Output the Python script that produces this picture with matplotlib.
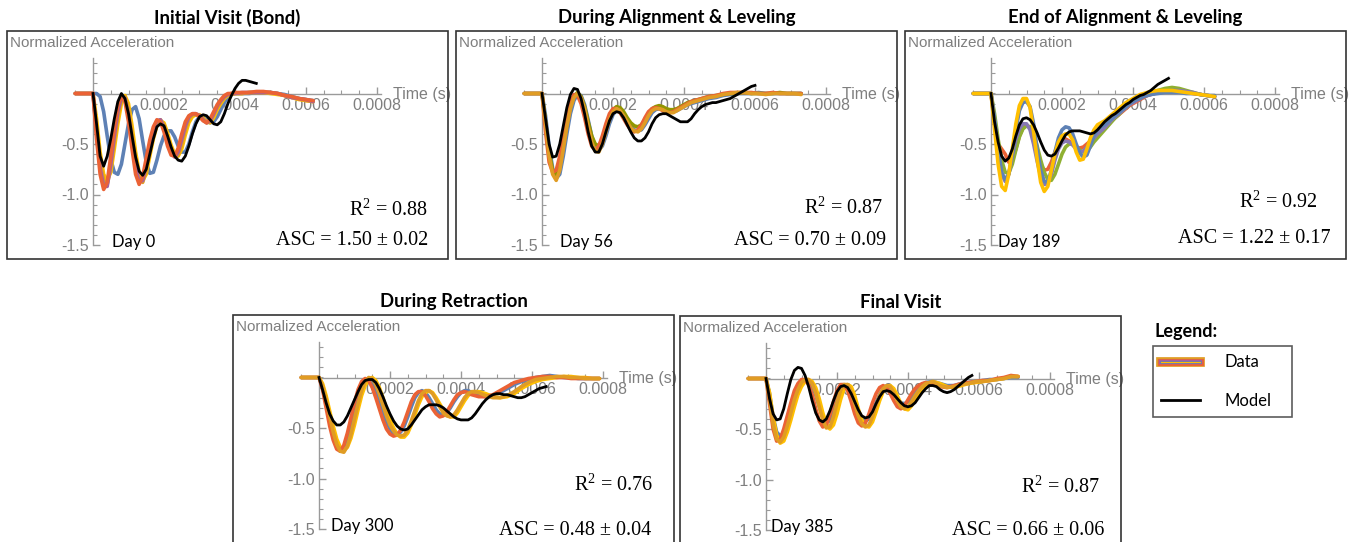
import numpy as np
import matplotlib
matplotlib.use("Agg")
import matplotlib.pyplot as plt
from matplotlib.lines import Line2D
from matplotlib.patches import Rectangle
from matplotlib.legend_handler import HandlerTuple

plt.rcParams['axes.unicode_minus'] = False
plt.rcParams['mathtext.fontset'] = 'custom'
plt.rcParams['mathtext.rm'] = 'Liberation Serif'
plt.rcParams['mathtext.it'] = 'Liberation Serif:italic'

W, H = 1349, 542

BLUE = '#5E81B5'
ORANGE = '#E09C24'
GREEN = '#8FB032'
RED = '#EB6235'
PURPLE = '#8778B3'
YELLOW = '#FFBF00'
PINK = '#A5609D'
OLIVE = '#929600'

# ---- time grids (microseconds) ----
t1 = [-50] + list(range(0, 410, 10)) + list(range(420, 640, 20))
t2 = [-50] + list(range(0, 460, 10)) + list(range(470, 750, 20))
t3 = [-50] + list(range(0, 460, 10)) + list(range(470, 650, 20))
t4 = [-50] + list(range(0, 460, 10)) + list(range(470, 810, 20))
t5 = [-50] + list(range(0, 460, 10)) + list(range(470, 730, 20))
tm1 = list(range(0, 470, 10))
tm2 = list(range(0, 610, 10))
tm3 = list(range(0, 510, 10))
tm4 = list(range(0, 650, 10))
tm5 = list(range(0, 590, 10))

# ---- Day 0 ----
p1_orange = [0, 0, -0.35, -0.68, -0.86, -0.90, -0.74, -0.47, -0.22, -0.06, -0.03,
             -0.16, -0.40, -0.66, -0.84, -0.88, -0.76, -0.57, -0.40, -0.29, -0.26,
             -0.31, -0.43, -0.55, -0.62, -0.61, -0.50, -0.36, -0.25, -0.21, -0.21,
             -0.22, -0.25, -0.29, -0.28, -0.21, -0.14, -0.08, -0.04, -0.01, 0.0,
             0.0,
             0.0, 0.01, 0.01, 0.01, 0.01, 0.0, -0.02, -0.04, -0.05, -0.07, -0.08]
p1_red = [0, 0, -0.45, -0.80, -0.95, -0.88, -0.62, -0.34, -0.12, -0.03, -0.08,
          -0.28, -0.55, -0.80, -0.90, -0.82, -0.64, -0.46, -0.33, -0.26, -0.28,
          -0.38, -0.52, -0.61, -0.62, -0.54, -0.40, -0.28, -0.22, -0.20, -0.20,
          -0.23, -0.27, -0.29, -0.25, -0.18, -0.11, -0.06, -0.02, 0.0, 0.0,
          0.01,
          0.01, 0.01, 0.02, 0.02, 0.01, 0.0, -0.02, -0.03, -0.05, -0.06, -0.07]
p1_pink = [0, 0, -0.40, -0.74, -0.92, -0.92, -0.70, -0.42, -0.18, -0.04, -0.05,
           -0.22, -0.48, -0.73, -0.88, -0.86, -0.70, -0.51, -0.36, -0.27, -0.26,
           -0.34, -0.47, -0.58, -0.63, -0.58, -0.45, -0.32, -0.23, -0.20, -0.20,
           -0.22, -0.26, -0.29, -0.27, -0.20, -0.12, -0.07, -0.03, -0.01, 0.0,
           0.0,
           0.01, 0.01, 0.01, 0.01, 0.01, 0.0, -0.02, -0.04, -0.05, -0.06, -0.08]
p1_yellow = [0, 0, -0.25, -0.58, -0.80, -0.86, -0.78, -0.55, -0.30, -0.10, -0.02,
             -0.10, -0.32, -0.58, -0.78, -0.86, -0.80, -0.62, -0.45, -0.32, -0.27,
             -0.29, -0.39, -0.51, -0.60, -0.62, -0.55, -0.41, -0.29, -0.23, -0.21,
             -0.21, -0.24, -0.28, -0.29, -0.24, -0.16, -0.10, -0.05, -0.02, -0.01,
             0.0,
             0.0, 0.01, 0.01, 0.01, 0.0, -0.01, -0.02, -0.04, -0.06, -0.07, -0.08]
p1_blue = [0, 0, 0.0, -0.03, -0.18, -0.42, -0.65, -0.78, -0.80, -0.70, -0.50,
           -0.30, -0.16, -0.13, -0.25, -0.47, -0.68, -0.79, -0.78, -0.66, -0.52,
           -0.42, -0.37, -0.37, -0.43, -0.52, -0.58, -0.58, -0.50, -0.38, -0.28,
           -0.23, -0.23, -0.26, -0.29, -0.28, -0.23, -0.16, -0.09, -0.04, -0.01,
           0.0,
           0.0, 0.0, 0.01, 0.01, 0.01, 0.0, -0.01, -0.03, -0.05, -0.06, -0.07]
m1 = [0, -0.30, -0.62, -0.72, -0.62, -0.45, -0.25, -0.08, 0.0, -0.05,
      -0.20, -0.42, -0.63, -0.77, -0.81, -0.75, -0.60, -0.45, -0.33, -0.30,
      -0.32, -0.42, -0.53, -0.62, -0.66, -0.67, -0.62, -0.52, -0.40, -0.30,
      -0.23, -0.21, -0.22, -0.26, -0.30, -0.31, -0.28, -0.20, -0.10, -0.02,
      0.05, 0.10, 0.13, 0.13, 0.12, 0.11, 0.10]

# ---- Day 56 ----
p2_orange = [0, 0, -0.30, -0.62, -0.80, -0.86, -0.76, -0.55, -0.33, -0.15, -0.04,
             0.0, -0.04, -0.15, -0.32, -0.48, -0.57, -0.58, -0.50, -0.38, -0.26,
             -0.18, -0.15, -0.17, -0.22, -0.28, -0.34, -0.37, -0.38, -0.35, -0.29,
             -0.22, -0.17, -0.15, -0.15, -0.16, -0.18, -0.19, -0.19, -0.17, -0.15,
             -0.13, -0.11, -0.09, -0.08, -0.07, -0.06,
             -0.04, -0.03, -0.01, 0.0, 0.01, 0.01, 0.0, 0.0, -0.01, 0.0, 0.0, 0.0, 0.0, -0.01]
p2_blue = [0, 0, -0.22, -0.52, -0.74, -0.84, -0.80, -0.62, -0.40, -0.20, -0.07,
           -0.01, -0.02, -0.11, -0.26, -0.42, -0.53, -0.56, -0.52, -0.42, -0.30,
           -0.21, -0.16, -0.16, -0.20, -0.26, -0.32, -0.36, -0.37, -0.36, -0.31,
           -0.25, -0.19, -0.16, -0.15, -0.15, -0.17, -0.18, -0.18, -0.17, -0.15,
           -0.13, -0.11, -0.10, -0.09, -0.08, -0.07,
           -0.05, -0.04, -0.02, -0.01, 0.0, 0.0, 0.0, 0.01, 0.0, 0.0, 0.0, 0.0, 0.0, 0.0]
p2_red = [0, 0, -0.38, -0.68, -0.78, -0.76, -0.62, -0.42, -0.22, -0.08, -0.01,
          -0.02, -0.10, -0.24, -0.40, -0.52, -0.56, -0.52, -0.42, -0.30, -0.20,
          -0.15, -0.15, -0.19, -0.25, -0.31, -0.36, -0.38, -0.36, -0.31, -0.24,
          -0.18, -0.15, -0.14, -0.15, -0.17, -0.19, -0.19, -0.18, -0.16, -0.14,
          -0.12, -0.10, -0.08, -0.07, -0.06, -0.05,
          -0.03, -0.02, 0.0, 0.01, 0.01, 0.01, 0.01, 0.0, 0.0, 0.01, 0.0, 0.0, 0.0, 0.0]
p2_olive = [0, 0, -0.28, -0.58, -0.76, -0.80, -0.72, -0.52, -0.31, -0.13, -0.03,
            0.01, -0.03, -0.13, -0.28, -0.42, -0.50, -0.52, -0.46, -0.35, -0.24,
            -0.16, -0.13, -0.14, -0.18, -0.24, -0.29, -0.32, -0.33, -0.31, -0.26,
            -0.20, -0.15, -0.13, -0.12, -0.13, -0.15, -0.16, -0.16, -0.15, -0.13,
            -0.11, -0.09, -0.08, -0.07, -0.06, -0.05,
            -0.03, -0.02, -0.01, 0.0, 0.0, 0.01, 0.0, 0.0, 0.0, 0.0, 0.01, 0.0, 0.0, 0.0]
m2 = [0, -0.25, -0.50, -0.63, -0.62, -0.50, -0.32, -0.14, -0.01, 0.05,
      0.04, -0.05, -0.20, -0.38, -0.52, -0.58, -0.58, -0.50, -0.38, -0.27,
      -0.20, -0.18, -0.19, -0.24, -0.31, -0.38, -0.44, -0.47, -0.47, -0.44,
      -0.38, -0.30, -0.24, -0.21, -0.20, -0.20, -0.22, -0.24, -0.26, -0.28,
      -0.28, -0.28, -0.25, -0.20, -0.16, -0.13, -0.11, -0.10, -0.09, -0.09,
      -0.08, -0.07, -0.06, -0.05, -0.03, -0.01, 0.01, 0.03, 0.05, 0.07,
      0.08]

# ---- Day 189 ----
p3_yellow = [0, 0, -0.35, -0.70, -0.92, -0.96, -0.80, -0.55, -0.30, -0.12, -0.05,
             -0.05, -0.14, -0.38, -0.65, -0.88, -0.97, -0.92, -0.76, -0.60, -0.48,
             -0.42, -0.40, -0.40, -0.46, -0.58, -0.66, -0.65, -0.55, -0.44, -0.36,
             -0.31, -0.29, -0.27, -0.24, -0.21, -0.18, -0.15, -0.12, -0.09, -0.07,
             -0.05, -0.03, -0.01, 0.0, 0.01, 0.02,
             0.03, 0.03, 0.03, 0.02, 0.01, 0.0, -0.01, -0.02, -0.03]
p3_blue = [0, 0, -0.25, -0.55, -0.78, -0.85, -0.80, -0.60, -0.36, -0.17, -0.09,
           -0.08, -0.13, -0.30, -0.55, -0.76, -0.87, -0.88, -0.76, -0.58, -0.44,
           -0.36, -0.33, -0.34, -0.40, -0.50, -0.59, -0.63, -0.61, -0.52, -0.42,
           -0.36, -0.33, -0.31, -0.28, -0.25, -0.22, -0.19, -0.16, -0.13, -0.10,
           -0.08, -0.06, -0.05, -0.03, -0.02, -0.01,
           0.0, 0.01, 0.01, 0.01, 0.0, 0.0, -0.01, -0.02, -0.02]
p3_green = [0, 0, -0.20, -0.45, -0.66, -0.78, -0.79, -0.70, -0.56, -0.43, -0.35,
            -0.32, -0.33, -0.40, -0.52, -0.66, -0.78, -0.85, -0.86, -0.80, -0.70,
            -0.60, -0.53, -0.50, -0.50, -0.53, -0.56, -0.58, -0.57, -0.53, -0.48,
            -0.44, -0.40, -0.36, -0.32, -0.28, -0.24, -0.21, -0.17, -0.14, -0.11,
            -0.08, -0.06, -0.04, -0.02, 0.0, 0.01,
            0.03, 0.05, 0.06, 0.05, 0.03, 0.01, -0.01, -0.02, -0.03]
p3_red = [0, 0, -0.30, -0.50, -0.55, -0.60, -0.68, -0.66, -0.55, -0.42, -0.34,
          -0.31, -0.34, -0.44, -0.58, -0.70, -0.76, -0.75, -0.68, -0.58, -0.50,
          -0.46, -0.45, -0.47, -0.50, -0.53, -0.54, -0.53, -0.50, -0.47, -0.44,
          -0.41, -0.38, -0.35, -0.31, -0.27, -0.24, -0.21, -0.18, -0.15, -0.12,
          -0.10, -0.08, -0.06, -0.04, -0.02, -0.01,
          0.01, 0.02, 0.03, 0.02, 0.01, 0.0, -0.01, -0.02, -0.03]
p3_purple = [0, 0, -0.28, -0.58, -0.80, -0.87, -0.80, -0.62, -0.45, -0.35, -0.30,
             -0.30, -0.36, -0.50, -0.67, -0.82, -0.90, -0.89, -0.80, -0.66, -0.55,
             -0.49, -0.47, -0.48, -0.51, -0.55, -0.58, -0.57, -0.53, -0.48, -0.44,
             -0.40, -0.37, -0.34, -0.30, -0.26, -0.23, -0.20, -0.17, -0.14, -0.11,
             -0.09, -0.07, -0.05, -0.03, -0.02, -0.01,
             0.01, 0.02, 0.03, 0.03, 0.02, 0.01, -0.01, -0.02, -0.03]
m3 = [0, -0.28, -0.48, -0.62, -0.67, -0.64, -0.55, -0.42, -0.31, -0.25,
      -0.24, -0.26, -0.31, -0.39, -0.48, -0.56, -0.61, -0.62, -0.60, -0.54,
      -0.47, -0.41, -0.38, -0.37, -0.37, -0.37, -0.38, -0.39, -0.40, -0.39,
      -0.36, -0.32, -0.28, -0.25, -0.22, -0.20, -0.17, -0.14, -0.11, -0.09,
      -0.06, -0.04, -0.02, -0.01, 0.01, 0.03, 0.06, 0.09, 0.11, 0.13,
      0.15]

# ---- Day 300 ----
p4_orange = [0, 0, -0.08, -0.22, -0.38, -0.54, -0.66, -0.73, -0.74, -0.68, -0.56,
             -0.41, -0.26, -0.13, -0.04, 0.0, -0.01, -0.07, -0.16, -0.27, -0.38,
             -0.47, -0.53, -0.57, -0.58, -0.57, -0.52, -0.43, -0.33, -0.23, -0.16,
             -0.13, -0.13, -0.16, -0.22, -0.29, -0.35, -0.38, -0.39, -0.37, -0.32,
             -0.26, -0.20, -0.16, -0.14, -0.14, -0.15,
             -0.18, -0.20, -0.20, -0.18, -0.14, -0.09, -0.05, -0.02, -0.01, 0.0, 0.01, 0.01,
             0.0, 0.0, -0.01, -0.01, -0.01]
p4_red = [0, 0, -0.12, -0.30, -0.48, -0.62, -0.71, -0.73, -0.67, -0.55, -0.40,
          -0.25, -0.12, -0.04, -0.01, -0.03, -0.10, -0.20, -0.31, -0.42, -0.51,
          -0.56, -0.58, -0.57, -0.52, -0.44, -0.34, -0.24, -0.17, -0.14, -0.14,
          -0.18, -0.24, -0.31, -0.36, -0.39, -0.38, -0.34, -0.28, -0.22, -0.17,
          -0.15, -0.14, -0.15, -0.17, -0.18, -0.19,
          -0.19, -0.17, -0.13, -0.09, -0.05, -0.03, -0.01, 0.0, 0.01, 0.01, 0.0, 0.0,
          -0.01, -0.01, -0.01, -0.01, -0.01]
p4_blue = [0, 0, -0.10, -0.26, -0.43, -0.58, -0.68, -0.73, -0.71, -0.62, -0.48,
           -0.33, -0.19, -0.08, -0.02, -0.01, -0.05, -0.13, -0.23, -0.34, -0.44,
           -0.51, -0.55, -0.56, -0.54, -0.48, -0.39, -0.29, -0.20, -0.15, -0.13,
           -0.15, -0.20, -0.26, -0.32, -0.36, -0.37, -0.35, -0.30, -0.24, -0.19,
           -0.15, -0.13, -0.13, -0.15, -0.17, -0.18,
           -0.19, -0.18, -0.15, -0.11, -0.07, -0.04, -0.02, 0.0, 0.01, 0.02, 0.01, 0.0,
           0.0, -0.01, -0.01, -0.01, -0.01]
p4_yellow = [0, 0, -0.06, -0.18, -0.33, -0.48, -0.61, -0.69, -0.72, -0.69, -0.60,
             -0.47, -0.32, -0.18, -0.08, -0.02, 0.0, -0.03, -0.10, -0.20, -0.31,
             -0.42, -0.50, -0.56, -0.59, -0.59, -0.55, -0.47, -0.37, -0.27, -0.19,
             -0.15, -0.13, -0.15, -0.20, -0.26, -0.32, -0.37, -0.39, -0.39, -0.35,
             -0.29, -0.23, -0.18, -0.15, -0.14, -0.14,
             -0.16, -0.19, -0.20, -0.19, -0.16, -0.11, -0.07, -0.04, -0.02, -0.01, 0.0, 0.01,
             0.01, 0.0, 0.0, -0.01, -0.01]
m4 = [0, -0.12, -0.25, -0.36, -0.43, -0.47, -0.47, -0.44, -0.38, -0.30,
      -0.22, -0.14, -0.07, -0.03, -0.02, -0.02, -0.05, -0.11, -0.19, -0.28,
      -0.36, -0.43, -0.48, -0.51, -0.52, -0.51, -0.47, -0.42, -0.37, -0.32,
      -0.29, -0.27, -0.27, -0.27, -0.28, -0.30, -0.33, -0.36, -0.39, -0.41,
      -0.42, -0.42, -0.42, -0.40, -0.36, -0.31, -0.26, -0.22, -0.19, -0.17,
      -0.16, -0.16, -0.17, -0.17, -0.18, -0.19, -0.20, -0.20, -0.19, -0.17,
      -0.15, -0.13, -0.11, -0.10, -0.09]

# ---- Day 385 ----
p5_orange = [0, 0, -0.20, -0.45, -0.60, -0.63, -0.58, -0.47, -0.34, -0.21, -0.11,
             -0.04, -0.01, -0.01, -0.05, -0.14, -0.28, -0.41, -0.49, -0.48, -0.38,
             -0.24, -0.12, -0.06, -0.06, -0.13, -0.25, -0.37, -0.45, -0.48, -0.46,
             -0.38, -0.27, -0.17, -0.10, -0.07, -0.08, -0.14, -0.22, -0.28, -0.30,
             -0.28, -0.23, -0.17, -0.12, -0.08, -0.05,
             -0.03, -0.07, -0.09, -0.08, -0.06, -0.05, -0.03, -0.03, -0.02, -0.01, 0.0, 0.02, 0.02]
p5_red = [0, 0, -0.25, -0.50, -0.62, -0.60, -0.50, -0.37, -0.24, -0.12, -0.05,
          -0.01, -0.01, -0.06, -0.16, -0.30, -0.42, -0.48, -0.46, -0.36, -0.23,
          -0.12, -0.06, -0.06, -0.12, -0.23, -0.35, -0.44, -0.47, -0.44, -0.35,
          -0.24, -0.15, -0.09, -0.07, -0.09, -0.15, -0.22, -0.28, -0.30, -0.27,
          -0.21, -0.15, -0.10, -0.07, -0.05, -0.04,
          -0.05, -0.08, -0.09, -0.07, -0.05, -0.04, -0.03, -0.02, -0.02, 0.0, 0.01, 0.03, 0.02]
p5_blue = [0, 0, -0.15, -0.38, -0.53, -0.57, -0.54, -0.44, -0.32, -0.20, -0.10,
           -0.04, -0.02, -0.03, -0.07, -0.16, -0.28, -0.38, -0.43, -0.42, -0.34,
           -0.22, -0.12, -0.07, -0.07, -0.13, -0.23, -0.33, -0.40, -0.42, -0.40,
           -0.33, -0.24, -0.16, -0.10, -0.08, -0.09, -0.14, -0.20, -0.24, -0.25,
           -0.23, -0.18, -0.13, -0.09, -0.06, -0.04,
           -0.03, -0.05, -0.07, -0.07, -0.05, -0.04, -0.03, -0.02, -0.01, -0.01, 0.0, 0.01, 0.01]
p5_yellow = [0, 0, -0.14, -0.38, -0.56, -0.64, -0.62, -0.53, -0.41, -0.28, -0.16,
             -0.08, -0.03, -0.01, -0.03, -0.09, -0.20, -0.34, -0.45, -0.50, -0.46,
             -0.35, -0.21, -0.10, -0.06, -0.08, -0.17, -0.30, -0.41, -0.47, -0.48,
             -0.43, -0.33, -0.22, -0.13, -0.08, -0.07, -0.10, -0.17, -0.25, -0.30,
             -0.31, -0.27, -0.21, -0.15, -0.10, -0.06,
             -0.03, -0.05, -0.08, -0.09, -0.07, -0.05, -0.04, -0.03, -0.02, -0.01, 0.0, 0.02, 0.02]
m5 = [0, -0.20, -0.35, -0.41, -0.40, -0.30, -0.15, -0.01, 0.08, 0.11,
      0.10, 0.03, -0.08, -0.22, -0.34, -0.41, -0.43, -0.40, -0.32, -0.22,
      -0.13, -0.08, -0.07, -0.09, -0.15, -0.23, -0.31, -0.37, -0.39, -0.38,
      -0.33, -0.25, -0.18, -0.13, -0.12, -0.13, -0.16, -0.20, -0.24, -0.27,
      -0.28, -0.27, -0.24, -0.19, -0.14, -0.10, -0.07, -0.07, -0.08, -0.11,
      -0.13, -0.14, -0.13, -0.11, -0.08, -0.05, -0.02, 0.01, 0.03]

titles = ["Initial Visit (Bond)", "During Alignment & Leveling", "End of Alignment & Leveling",
          "During Retraction", "Final Visit"]
days = ["Day 0", "Day 56", "Day 189", "Day 300", "Day 385"]
r2_vals = ["0.88", "0.87", "0.92", "0.76", "0.87"]
asc_vals = ["1.50 ± 0.02", "0.70 ± 0.09", "1.22 ± 0.17", "0.48 ± 0.04", "0.66 ± 0.06"]

panels = [
    (t1, [(p1_blue, BLUE), (p1_yellow, YELLOW), (p1_orange, ORANGE), (p1_pink, PINK), (p1_red, RED)], tm1, m1),
    (t2, [(p2_blue, BLUE), (p2_olive, OLIVE), (p2_red, RED), (p2_orange, ORANGE)], tm2, m2),
    (t3, [(p3_red, RED), (p3_green, GREEN), (p3_purple, PURPLE), (p3_blue, BLUE), (p3_yellow, YELLOW)], tm3, m3),
    (t4, [(p4_blue, BLUE), (p4_yellow, YELLOW), (p4_red, RED), (p4_orange, ORANGE)], tm4, m4),
    (t5, [(p5_blue, BLUE), (p5_yellow, YELLOW), (p5_red, RED), (p5_orange, ORANGE)], tm5, m5),
]

# frame (left, top) px, day offset from y-axis px, R2 right inset, ASC right inset, R2 y, ASC y
layout = [
    (7, 31, 19, 20, 20, 0.215, 0.079),
    (456, 31, 18, 14, 11, 0.224, 0.083),
    (905, 31, 7, 28, 15, 0.250, 0.092),
    (233, 315, 12, 21, 23, 0.254, 0.057),
    (680, 316, 5, 21, 17, 0.250, 0.061),
]

FW, FH = 441, 228
AX0 = 86      # px from frame left to y axis
AXTOP = 62.5  # px from frame top to x axis
XSC = 71 / 2e-4
YSC = 101.0

GRAY = '#9a9a9a'
LGRAY = '#7f7f7f'
SANS = ['Liberation Sans', 'DejaVu Sans']
HUM = ['Lato', 'DejaVu Sans']
SERIF = ['Liberation Serif', 'DejaVu Serif']

fig = plt.figure(figsize=(W / 100, H / 100), dpi=100)

for i, (t, curves, tm, model) in enumerate(panels):
    x0, y0, dayoff, r2in, ascin, r2y, ascy = layout[i]
    ax = fig.add_axes([x0 / W, 1 - (y0 + FH) / H, FW / W, FH / H])
    ax.set_xlim(-AX0 / XSC, (FW - AX0) / XSC)
    ax.set_ylim(-(FH - AXTOP) / YSC, AXTOP / YSC)

    for vals, col in curves:
        ax.plot(np.array(t) * 1e-6, vals, color=col, lw=2.6, solid_joinstyle='round',
                solid_capstyle='round', zorder=2)
    ax.plot(np.array(tm) * 1e-6, model, color='black', lw=2.0, solid_joinstyle='round', zorder=3)

    for s in ['top', 'right']:
        ax.spines[s].set_visible(False)
    for s in ['left', 'bottom']:
        ax.spines[s].set_position(('data', 0))
        ax.spines[s].set_color(GRAY)
        ax.spines[s].set_linewidth(1.0)
        ax.spines[s].set_zorder(0.5)
    ax.spines['left'].set_bounds(-1.5, 0.35)
    ax.spines['bottom'].set_bounds(-0.00005, 0.000812)
    ax.set_axisbelow(True)

    ax.set_xticks([0.0002, 0.0004, 0.0006, 0.0008])
    ax.set_xticklabels(["0.0002", "0.0004", "0.0006", "0.0008"])
    ax.set_xticks(np.arange(-0.00005, 0.00081, 0.00005), minor=True)
    ax.set_yticks([-1.5, -1.0, -0.5])
    ax.set_yticklabels(["-1.5", "-1.0", "-0.5"])
    ax.set_yticks(np.arange(-1.4, 0.35, 0.1), minor=True)
    ax.tick_params(which='both', direction='in', color=GRAY, labelcolor=LGRAY, labelsize=11.5)
    ax.tick_params(which='major', length=5, width=1.0)
    ax.tick_params(which='minor', length=3, width=0.8)
    ax.tick_params(axis='x', pad=3)
    ax.tick_params(axis='y', pad=3)
    for lab in ax.get_xticklabels() + ax.get_yticklabels():
        lab.set_fontfamily(SANS)

    ax.text(0.000845, -0.005, "Time (s)", ha='left', va='center', fontsize=11.5,
            color=LGRAY, family=SANS, zorder=0.6)
    ax.text(0.007, 1 - 12 / FH, "Normalized Acceleration", transform=ax.transAxes,
            ha='left', va='center', fontsize=11, color=LGRAY, family=SANS)
    ax.text((AX0 + dayoff) / FW, 1 - (FH - 17) / FH, days[i], transform=ax.transAxes,
            ha='left', va='center', fontsize=12, color='black', family=HUM)
    ax.text(1 - r2in / FW, r2y, r"R$^2$ = " + r2_vals[i], transform=ax.transAxes,
            ha='right', va='center', fontsize=14.5, family=SERIF)
    ax.text(1 - ascin / FW, ascy, "ASC = " + asc_vals[i], transform=ax.transAxes,
            ha='right', va='center', fontsize=14.5, family=SERIF)

    ax.add_patch(Rectangle((0, 0), 1, 1, transform=ax.transAxes, fill=False,
                           ec='#333333', lw=1.2, clip_on=False, zorder=6))

    fig.text((x0 + FW / 2) / W, 1 - (y0 - 13) / H, titles[i], ha='center', va='center',
             fontsize=13.3, fontweight='bold', family=HUM)

# legend
fig.text(1155 / W, 1 - 332 / H, "Legend:", ha='left', va='center', fontsize=13,
         fontweight='bold', family=HUM)
data_handle = (Line2D([], [], color=ORANGE, lw=7),
               Line2D([], [], color=RED, lw=5),
               Line2D([], [], color=PINK, lw=3.2),
               Line2D([], [], color=BLUE, lw=1.8),
               Line2D([], [], color=YELLOW, lw=0.8))
model_handle = Line2D([], [], color='black', lw=2)
leg = fig.legend([data_handle, model_handle], ["Data", "Model"],
                 handler_map={tuple: HandlerTuple(ndivide=1)},
                 loc='upper left', bbox_to_anchor=(1153 / W, 1 - 418 / H, 139 / W, 72 / H),
                 mode='expand', borderaxespad=0, frameon=True, fancybox=False,
                 edgecolor='#333333', handlelength=2.3, handletextpad=1.5,
                 labelspacing=1.35, borderpad=0.5, prop={'family': HUM, 'size': 12})
leg.get_frame().set_linewidth(1.2)

fig.savefig("out.png", dpi=100)
